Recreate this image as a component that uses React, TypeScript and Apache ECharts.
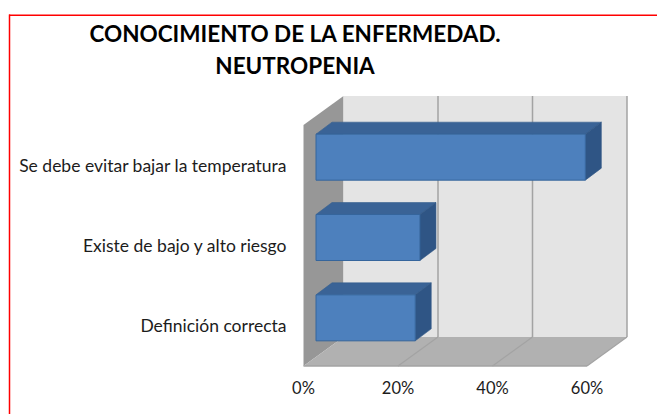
import React, { useEffect, useRef } from "react";
import * as echarts from "echarts";

const categories = ["Definición correcta", "Existe de bajo y alto riesgo", "Se debe evitar bajar la temperatura"];
const values = [21, 22, 57];
const ticks = [0, 20, 40, 60];
const titleLines = ["CONOCIMIENTO DE LA ENFERMEDAD.", "NEUTROPENIA"];

const FONT = "Lato, 'Open Sans', sans-serif";
const DEPTH_X = 40;
const DEPTH_Y = 29;
const GRID_COLOR = "#a3a3a3";

function renderFrame(params: any, api: any) {
  const tick = api.value(0);
  const cs = params.coordSys;
  const x = api.coord([tick, 0])[0];
  const top = cs.y;
  const bottom = cs.y + cs.height;
  const children: any[] = [];
  if (params.dataIndex === 0) {
    children.push(
      { type: "polygon", shape: { points: [[x, top], [x + DEPTH_X, top - DEPTH_Y], [x + DEPTH_X, bottom - DEPTH_Y], [x, bottom]] }, style: { fill: "#979797" } },
      { type: "rect", shape: { x: x + DEPTH_X, y: top - DEPTH_Y, width: cs.width, height: cs.height }, style: { fill: "#e4e4e4" } },
      { type: "polygon", shape: { points: [[x, bottom], [x + DEPTH_X, bottom - DEPTH_Y], [x + DEPTH_X + cs.width, bottom - DEPTH_Y], [x + cs.width, bottom]] }, style: { fill: "#b1b1b1" } },
      { type: "line", shape: { x1: x, y1: bottom, x2: x + cs.width, y2: bottom }, style: { stroke: GRID_COLOR, lineWidth: 1.5 } }
    );
  } else {
    children.push(
      { type: "line", shape: { x1: x + DEPTH_X, y1: top - DEPTH_Y, x2: x + DEPTH_X, y2: bottom - DEPTH_Y }, style: { stroke: GRID_COLOR, lineWidth: 1.5 } },
      { type: "line", shape: { x1: x, y1: bottom, x2: x + DEPTH_X, y2: bottom - DEPTH_Y }, style: { stroke: GRID_COLOR, lineWidth: 1.2 } }
    );
  }
  return { type: "group", children };
}

function renderBar(params: any, api: any) {
  const OFFX = 12.5;
  const OFFY = -8;
  const H = 46;
  const DX = 16;
  const DY = 12;
  const p0 = api.coord([0, api.value(1)]);
  const p1 = api.coord([api.value(0), api.value(1)]);
  const x0 = p0[0] + OFFX;
  const x1 = p1[0] + OFFX;
  const yT = p0[1] + OFFY - H / 2;
  const yB = yT + H;
  return {
    type: "group",
    children: [
      { type: "polygon", shape: { points: [[x0, yT], [x0 + DX, yT - DY], [x1 + DX, yT - DY], [x1, yT]] }, style: { fill: "#3a6396", stroke: "#35608f", lineWidth: 0.6 } },
      { type: "polygon", shape: { points: [[x1, yT], [x1 + DX, yT - DY], [x1 + DX, yB - DY], [x1, yB]] }, style: { fill: "#2f5585", stroke: "#2f5585", lineWidth: 0.6 } },
      { type: "rect", shape: { x: x0, y: yT, width: x1 - x0, height: H }, style: { fill: "#4d80bd", stroke: "#35659c", lineWidth: 1 } },
    ],
  };
}

export default function App() {
  const ref = useRef<HTMLDivElement>(null);
  useEffect(() => {
    document.body.style.margin = "0";
    const chart = echarts.init(ref.current!, undefined, { renderer: "svg" });
    chart.setOption({
      animation: false,
      backgroundColor: "#ffffff",
      textStyle: { fontFamily: FONT },
      grid: { left: 303.5, top: 125, width: 283.5, height: 241 },
      xAxis: {
        type: "value",
        min: 0,
        max: 60,
        interval: 20,
        splitLine: { show: false },
        axisLine: { show: false },
        axisTick: { show: false },
        axisLabel: { formatter: "{value}%", color: "#1c1c1c", fontSize: 16.5, fontFamily: FONT, margin: 13 },
      },
      yAxis: {
        type: "category",
        data: categories,
        axisLine: { show: false },
        axisTick: { show: false },
        axisLabel: { color: "#1c1c1c", fontSize: 17.5, fontFamily: FONT, margin: 17 },
      },
      series: [
        { type: "custom", coordinateSystem: "cartesian2d", renderItem: renderFrame, data: ticks.map((t) => [t, 0]), encode: { x: 0, y: 1 }, silent: true, clip: false, z: 1 },
        { type: "custom", coordinateSystem: "cartesian2d", renderItem: renderBar, data: values.map((v, i) => [v, i]), encode: { x: 0, y: 1 }, silent: true, clip: false, z: 2 },
      ],
      graphic: [
        { type: "rect", z: 10, shape: { x: 9, y: 14.5, width: 648, height: 1.5 }, style: { fill: "#ff0000" } },
        { type: "rect", z: 10, shape: { x: 8.75, y: 14.5, width: 1.5, height: 399.5 }, style: { fill: "#ff0000" } },
        { type: "text", z: 10, x: 295, y: 33, style: { text: titleLines[0], font: `bold 22.5px ${FONT}`, fill: "#000", align: "center", verticalAlign: "middle" } },
        { type: "text", z: 10, x: 295, y: 65, style: { text: titleLines[1], font: `bold 22.5px ${FONT}`, fill: "#000", align: "center", verticalAlign: "middle" } },
      ],
    });
    return () => chart.dispose();
  }, []);
  return <div ref={ref} style={{ width: 657, height: 414 }} />;
}
